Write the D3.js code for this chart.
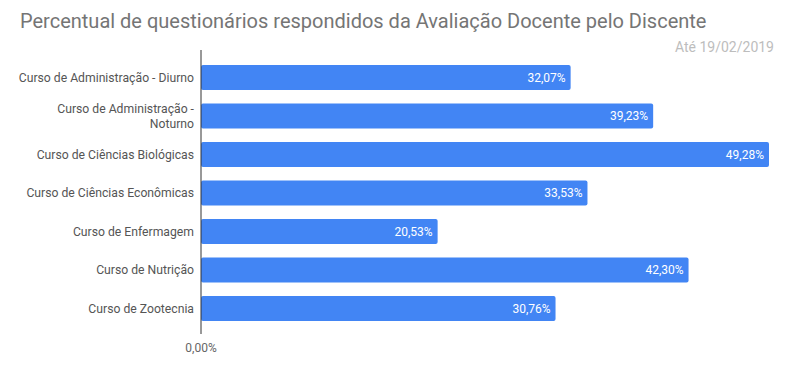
<!DOCTYPE html>
<html><head><meta charset="utf-8">
<script src="https://cdn.jsdelivr.net/npm/d3@7"></script>
<style>body{margin:0;background:#fff}svg{display:block;font-family:Roboto,sans-serif}</style>
</head><body><svg id="c" width="793" height="371"></svg>
<script>
const categories = ["Curso de Administração - Diurno","Curso de Administração - Noturno","Curso de Ciências Biológicas","Curso de Ciências Econômicas","Curso de Enfermagem","Curso de Nutrição","Curso de Zootecnia"];
const labelLines = [["Curso de Administração - Diurno"],["Curso de Administração -","Noturno"],["Curso de Ciências Biológicas"],["Curso de Ciências Econômicas"],["Curso de Enfermagem"],["Curso de Nutrição"],["Curso de Zootecnia"]];
const values = [32.07,39.23,49.28,33.53,20.53,42.30,30.76];
const xTicks = [0];
const title = "Percentual de questionários respondidos da Avaliação Docente pelo Discente";
const subtitle = "Até 19/02/2019";

const fmt = v => v.toFixed(2).replace(".", ",") + "%";
const svg = d3.select("#c");
const x = d3.scaleLinear().domain([0, 49.28]).range([201, 769]);
const y = d3.scaleBand().domain(categories).range([58.25, 327.75]).paddingInner(0.35).paddingOuter(0.175);

svg.append("text").attr("x", 20).attr("y", 28).attr("fill", "#757575")
  .style("font-size", "20px").text(title);
svg.append("text").attr("x", 774).attr("y", 52).attr("text-anchor", "end").attr("fill", "#bdbdbd")
  .style("font-size", "14px").text(subtitle);

svg.selectAll("rect.bar").data(values).join("rect").attr("class","bar")
  .attr("x", x(0)).attr("y", (d,i) => y(categories[i]))
  .attr("width", d => x(d) - x(0)).attr("height", y.bandwidth())
  .attr("rx", 2).attr("fill", "#4285f4");

svg.selectAll("text.val").data(values).join("text").attr("class","val")
  .attr("x", d => x(d) - 5).attr("y", (d,i) => y(categories[i]) + y.bandwidth()/2)
  .attr("dy", "0.35em").attr("text-anchor", "end").attr("fill", "#fff")
  .style("font-size", "12px").text(fmt);

const lab = svg.selectAll("text.cat").data(labelLines).join("text").attr("class","cat")
  .attr("text-anchor", "end").attr("fill", "#555").style("font-size", "12.2px");
lab.each(function(lines, i){
  const cy = y(categories[i]) + y.bandwidth()/2;
  const t = d3.select(this);
  lines.forEach((l, j) => {
    t.append("tspan").attr("x", 194)
      .attr("y", cy + (j - (lines.length-1)/2) * 15)
      .attr("dy", "0.35em").text(l);
  });
});

svg.append("line").attr("x1", x(0)).attr("x2", x(0)).attr("y1", 50).attr("y2", 334)
  .attr("stroke", "#333").attr("stroke-width", 1);

svg.selectAll("text.tick").data(xTicks).join("text").attr("class","tick")
  .attr("x", d => x(d)).attr("y", 348).attr("dy", "0.35em").attr("text-anchor", "middle")
  .attr("fill", "#666").style("font-size", "12px").text(fmt);
</script></body></html>
